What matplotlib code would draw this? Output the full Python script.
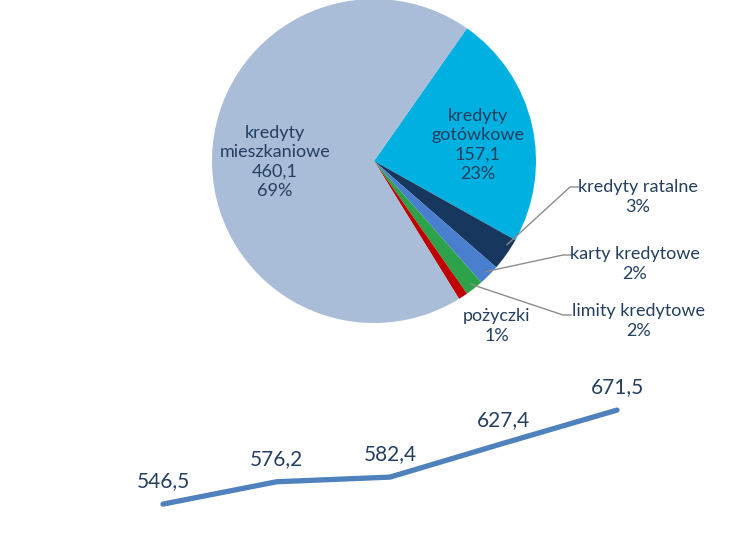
import numpy as np
import matplotlib.pyplot as plt

plt.rcParams['font.family'] = ['Lato', 'DejaVu Sans']

# pie data (mld zł)
kategorie = ['kredyty gotówkowe', 'kredyty ratalne', 'karty kredytowe',
             'limity kredytowe', 'pożyczki', 'kredyty mieszkaniowe']
wartosci = [157.1, 22.0, 14.0, 12.0, 6.3, 460.1]
kolory = ['#00B0E0', '#17375E', '#4A7FCF', '#2CA24A', '#C00000', '#A9BCD8']

# line data
lata = [0, 1, 2, 3, 4]
suma = [546.5, 576.2, 582.4, 627.4, 671.5]

txt_col = '#243F60'

W, H = 750, 536
fig = plt.figure(figsize=(7.5, 5.36), dpi=100)

# pie axes, centre (374,161) px, radius 162 px
cx, cy, r = 374, 161, 162
ax = fig.add_axes([(cx - r) / W, (H - cy - r) / H, 2 * r / W, 2 * r / H])
wedges, _ = ax.pie(wartosci, colors=kolory, startangle=55, counterclock=False,
                   radius=1.0, wedgeprops=dict(linewidth=0))
ax.set_xlim(-1, 1)
ax.set_ylim(-1, 1)
ax.set_aspect('equal')
ax.axis('off')

total = sum(wartosci)
pct = [round(v / total * 100) for v in wartosci]

def fmt(v):
    return ('%.1f' % v).replace('.', ',')

fs = 13
ls = 1.25
# big slices inside
ax.text(-0.61, -0.005, 'kredyty\nmieszkaniowe\n%s\n%d%%' % (fmt(wartosci[5]), pct[5]),
        ha='center', va='center', fontsize=fs, color=txt_col, linespacing=ls)
ax.text(0.64, 0.10, 'kredyty\ngotówkowe\n%s\n%d%%' % (fmt(wartosci[0]), pct[0]),
        ha='center', va='center', fontsize=fs, color=txt_col, linespacing=ls)

# small slices with leader lines
def edge_pt(i, frac=0.5, rr=0.97):
    w = wedges[i]
    a = np.deg2rad(w.theta1 + (w.theta2 - w.theta1) * frac)
    return rr * np.cos(a), rr * np.sin(a)

def px2d(px, py):
    return (px - cx) / r, (cy - py) / r

lead = [(1, 0.75, (570, 187), (638, 197)),
        (2, 0.5, (563, 255), (635, 264)),
        (3, 0.5, (563, 315), (639, 321))]
for i, frac, elbow, tpos in lead:
    x0, y0 = edge_pt(i, frac)
    ex, ey = px2d(*elbow)
    ax.plot([x0, ex, ex + 0.05], [y0, ey, ey], color='#8C8C8C',
            lw=1.0, clip_on=False)
    tx, ty = px2d(*tpos)
    ax.text(tx, ty, '%s\n%d%%' % (kategorie[i], pct[i]), ha='center',
            va='center', fontsize=fs, color=txt_col, linespacing=ls)

tx, ty = px2d(497, 326)
ax.text(tx, ty, '%s\n%d%%' % (kategorie[4], pct[4]), ha='center', va='center',
        fontsize=fs, color=txt_col, linespacing=ls)

# line axes: x 0..4 -> 163..617 px, y 540..680 -> 509..404 px
ax2 = fig.add_axes([163 / W, 27 / H, 454 / W, 105.3 / H])
ax2.plot(lata, suma, color='#4F81BD', lw=3.8, solid_capstyle='round', clip_on=False)
ax2.set_xlim(0, 4)
ax2.set_ylim(540, 680)
ax2.axis('off')
for x, y in zip(lata, suma):
    ax2.annotate(fmt(y), (x, y), xytext=(0, 16.5), textcoords='offset points',
                 ha='center', va='center', fontsize=15, color=txt_col)

fig.savefig('out.png', dpi=100)
